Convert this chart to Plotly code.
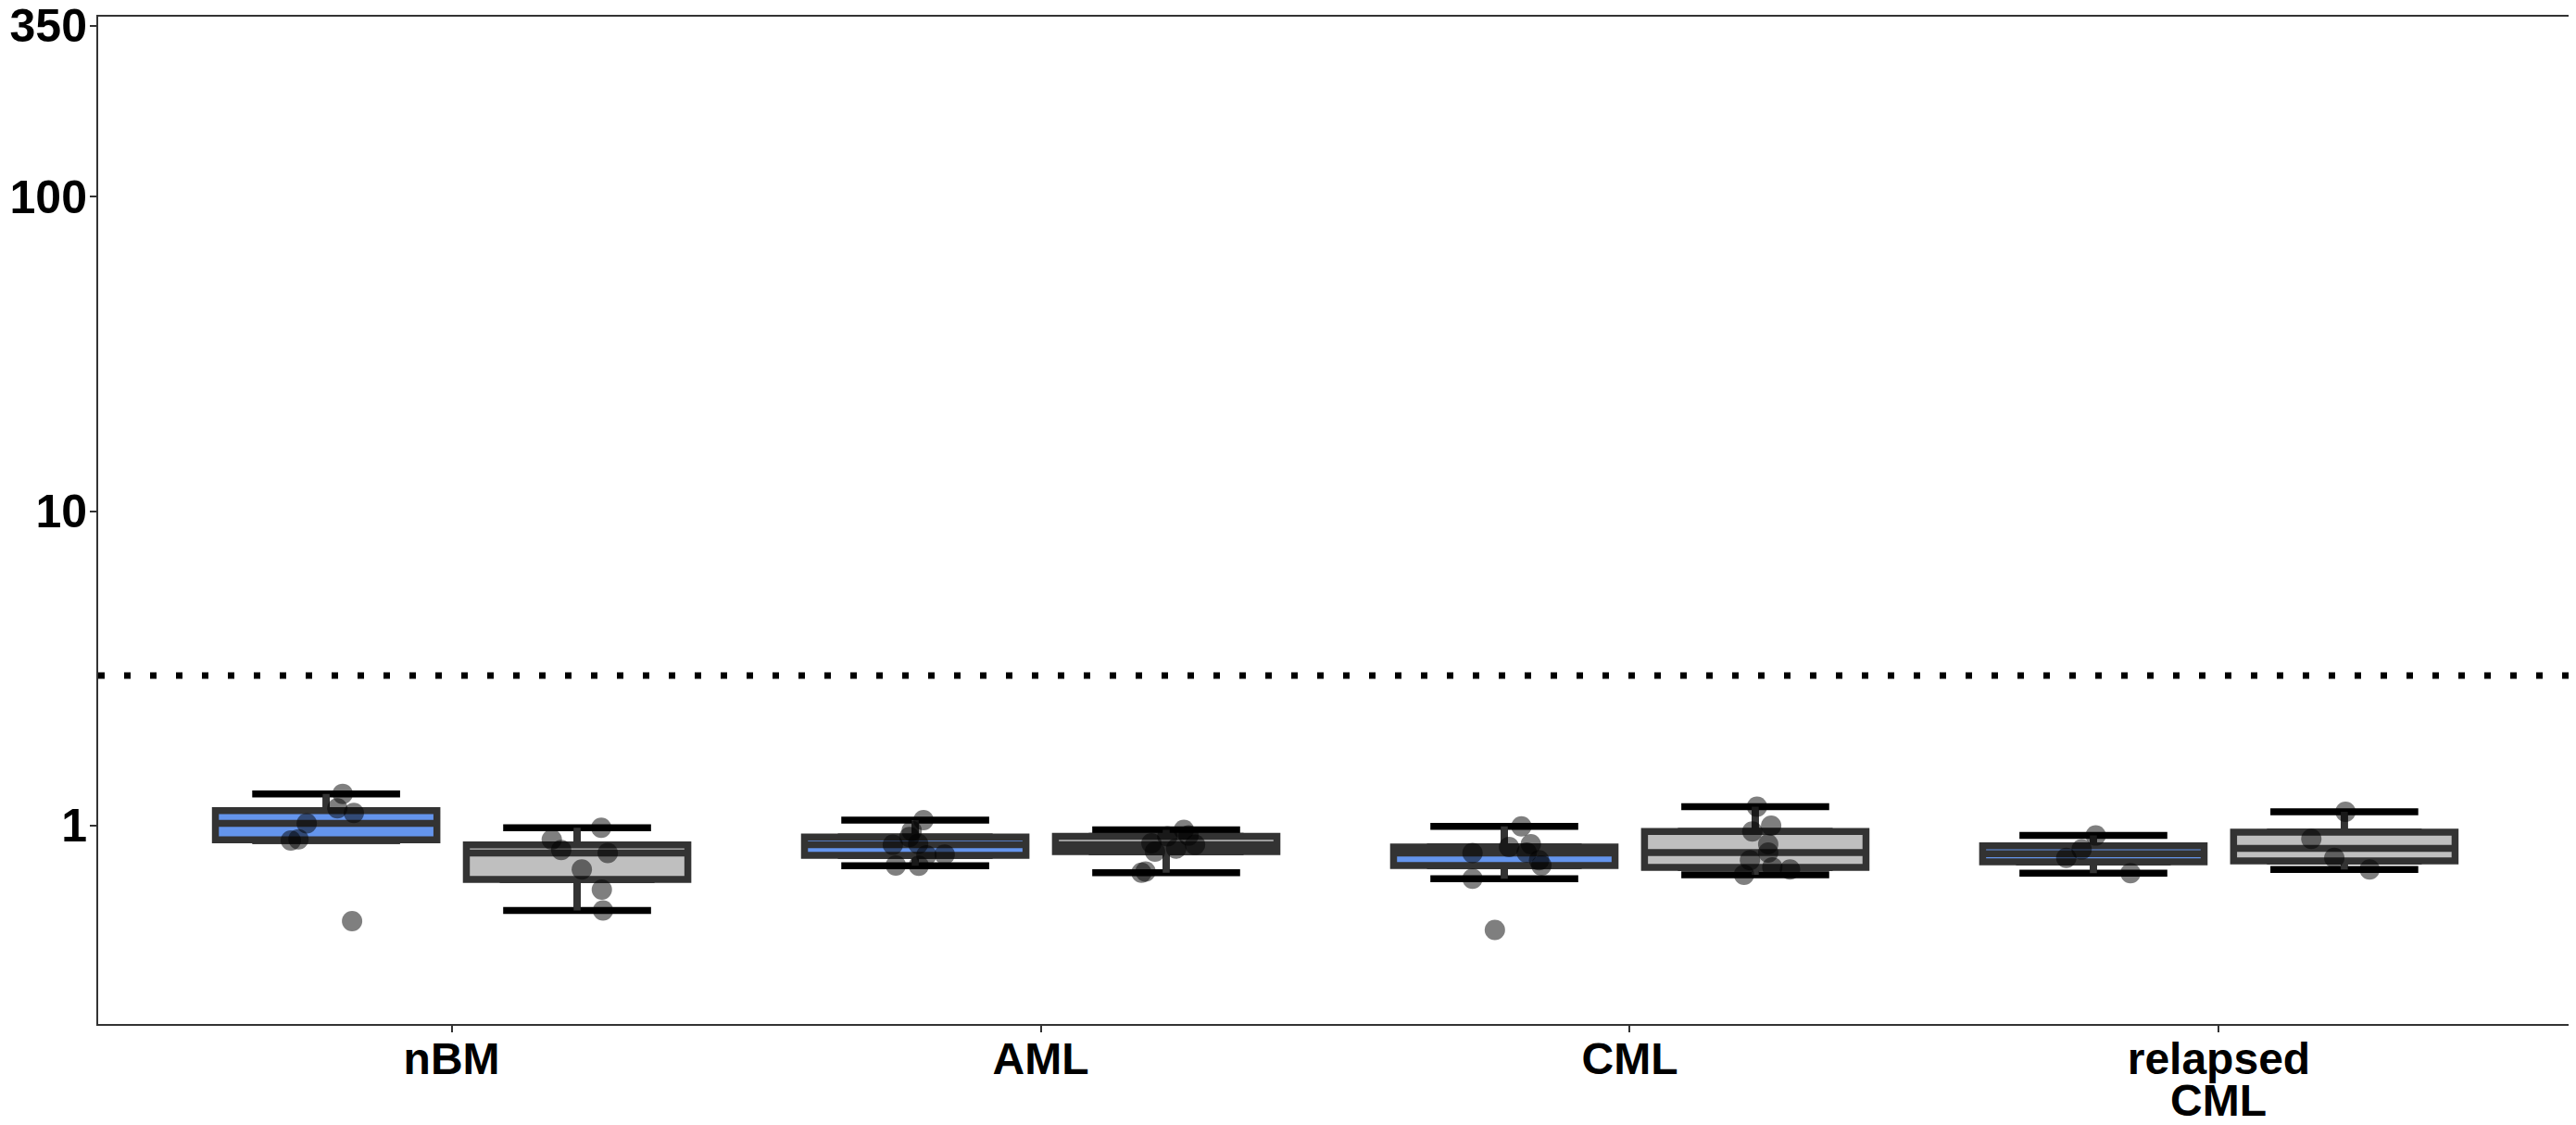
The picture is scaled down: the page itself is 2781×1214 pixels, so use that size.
import numpy as np
import plotly.graph_objects as go

# ---------------- data ----------------
CATEGORIES = ["nBM", "AML", "CML", "relapsed CML"]
Y_TICKS = [1, 10, 100, 350]
THRESHOLD = 3

# blue (left) group: values per category
BLUE_VALUES = [
    [1.262, 1.135, 1.097, 1.016, 0.905, 0.897, 0.497],
    [1.041, 0.962, 0.920, 0.869, 0.875, 0.809, 0.747, 0.745, 0.805],
    [0.995, 0.855, 0.873, 0.821, 0.776, 0.747, 0.818, 0.678, 0.466],
    [0.930, 0.840, 0.789, 0.706],
]
# horizontal jitter of each blue point (category units, relative to category centre)
BLUE_JITTER = [
    [-0.185, -0.194, -0.166, -0.246, -0.260, -0.273, -0.169],
    [-0.199, -0.219, -0.223, -0.251, -0.208, -0.163, -0.246, -0.207, -0.194],
    [-0.184, -0.205, -0.168, -0.175, -0.154, -0.150, -0.267, -0.267, -0.229],
    [-0.209, -0.233, -0.259, -0.150],
]

# grey (right) group
GREY_VALUES = [
    [0.984, 0.903, 0.836, 0.818, 0.725, 0.626, 0.537],
    [0.708, 0.714, 0.827, 0.845, 0.869, 0.879, 0.924, 0.930, 0.969],
    [1.148, 1.000, 0.958, 0.873, 0.821, 0.776, 0.737, 0.725, 0.698],
    [1.107, 0.907, 0.789, 0.725],
]
GREY_JITTER = [
    [0.254, 0.170, 0.186, 0.265, 0.221, 0.255, 0.257],
    [0.171, 0.178, 0.194, 0.230, 0.262, 0.188, 0.215, 0.251, 0.243],
    [0.216, 0.240, 0.208, 0.235, 0.235, 0.204, 0.242, 0.272, 0.194],
    [0.215, 0.157, 0.196, 0.256],
]

# ---------------- styling ----------------
BLUE = "#6495ED"
GREY = "#BFBFBF"
OUTLINE = "#333333"
DODGE = 0.213
BOX_W = 0.376
CAP_W = 0.251
FONT = "Liberation Sans, Arial, sans-serif"
TICK_FONT = dict(family=FONT, size=48, color="black", weight="bold")
YTICK_FONT = dict(family=FONT, size=50, color="black", weight="bold")


def box_stats(vals):
    """ggplot-style boxplot stats computed on log10 scale."""
    lv = np.log10(np.asarray(vals, dtype=float))
    q1, med, q3 = np.quantile(lv, [0.25, 0.5, 0.75])
    iqr = q3 - q1
    lo = lv[lv >= q1 - 1.5 * iqr].min()
    hi = lv[lv <= q3 + 1.5 * iqr].max()
    return [10 ** v for v in (q1, med, q3, lo, hi)]


fig = go.Figure()

groups = [
    (BLUE_VALUES, BLUE_JITTER, -DODGE, BLUE),
    (GREY_VALUES, GREY_JITTER, +DODGE, GREY),
]

# error bar caps (drawn first, under the boxes)
for values, jitter, off, col in groups:
    stats = [box_stats(v) for v in values]
    xs = [i + off for i in range(len(CATEGORIES))]
    fig.add_trace(go.Box(
        x=xs,
        q1=[s[0] for s in stats], median=[s[1] for s in stats], q3=[s[2] for s in stats],
        lowerfence=[s[3] for s in stats], upperfence=[s[4] for s in stats],
        width=CAP_W, whiskerwidth=1, boxpoints=False, orientation="v",
        line=dict(color="black", width=7.5), fillcolor="rgba(0,0,0,0)",
        hoverinfo="skip", showlegend=False,
    ))

# boxes
for values, jitter, off, col in groups:
    stats = [box_stats(v) for v in values]
    xs = [i + off for i in range(len(CATEGORIES))]
    fig.add_trace(go.Box(
        x=xs,
        q1=[s[0] for s in stats], median=[s[1] for s in stats], q3=[s[2] for s in stats],
        lowerfence=[s[3] for s in stats], upperfence=[s[4] for s in stats],
        width=BOX_W, whiskerwidth=0, boxpoints=False, orientation="v",
        line=dict(color=OUTLINE, width=7.5), fillcolor=col,
        showlegend=False,
    ))

# jittered points
for values, jitter, off, col in groups:
    px, py = [], []
    for i, (vals, jit) in enumerate(zip(values, jitter)):
        px += [i + j for j in jit]
        py += list(vals)
    fig.add_trace(go.Scatter(
        x=px, y=py, mode="markers",
        marker=dict(color="black", size=22, opacity=0.5, line=dict(width=0)),
        showlegend=False,
    ))

fig.add_shape(type="line", xref="paper", x0=0, x1=1, yref="y", y0=THRESHOLD, y1=THRESHOLD,
              line=dict(color="black", width=7, dash="7px,21px"))

# category labels: first word on the tick, remaining words as a second line below
first_lines = [c.split(" ")[0] for c in CATEGORIES]
for i, c in enumerate(CATEGORIES):
    rest = " ".join(c.split(" ")[1:])
    if rest:
        fig.add_annotation(x=i, xref="x", y=0, yref="paper", yanchor="top",
                           text=rest, showarrow=False, font=TICK_FONT,
                           height=40, valign="middle", yshift=-60)

axis_common = dict(
    showline=True, mirror=True, linecolor=OUTLINE, linewidth=2,
    ticks="outside", ticklen=7, tickwidth=2, tickcolor=OUTLINE,
    showgrid=False, zeroline=False, automargin=False,
    ticklabeloverflow="allow",
)

# page body adds an 8px offset, so the figure is 8px smaller than the window
fig.update_layout(
    width=2773, height=1206,
    margin=dict(l=98, r=4, t=10, b=109),
    paper_bgcolor="white", plot_bgcolor="white",
    boxmode="overlay", showlegend=False,
    xaxis=dict(range=[-0.6, 3.6], tickmode="array", tickvals=list(range(len(CATEGORIES))),
               ticktext=first_lines, ticklabelstandoff=-13, tickfont=TICK_FONT,
               **axis_common),
    yaxis=dict(type="log", range=[-0.631, 2.573], tickmode="array", tickvals=Y_TICKS,
               ticktext=[str(t) for t in Y_TICKS], ticklabelstandoff=-7, tickfont=YTICK_FONT,
               **axis_common),
)

fig.write_html("out.html")
